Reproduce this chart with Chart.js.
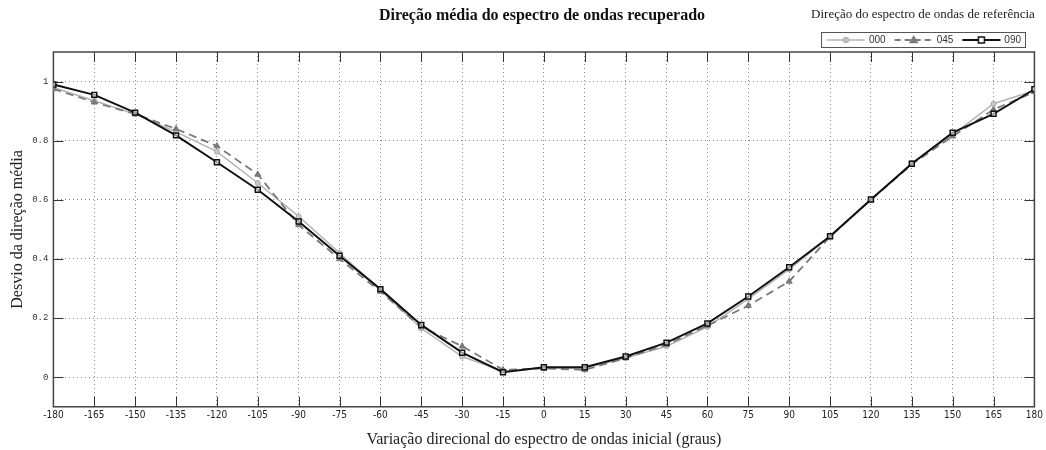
<!DOCTYPE html>
<html>
<head>
<meta charset="utf-8">
<script src="https://cdn.jsdelivr.net/npm/chart.js@4.4.1/dist/chart.umd.min.js"></script>
<style>
  html, body { margin: 0; padding: 0; background: #fff; }
  #wrap { position: relative; width: 1046px; height: 450px; }
  #title {
    position: absolute; top: 6px; left: 542px; transform: translateX(-50%);
    white-space: nowrap; font: bold 16px 'Liberation Serif', serif; color: #111;
  }
</style>
</head>
<body>
<div id="wrap">
  <canvas id="chart" width="1046" height="450"></canvas>
  <div id="title">Direção média do espectro de ondas recuperado</div>
</div>
<script>
// initial directional shift (degrees)
const angles = [-180, -165, -150, -135, -120, -105, -90, -75, -60, -45, -30, -15, 0,
                15, 30, 45, 60, 75, 90, 105, 120, 135, 150, 165, 180];

// mean direction deviation for each reference spectrum direction
const dir000 = [0.98, 0.935, 0.89, 0.83, 0.763, 0.657, 0.544, 0.42, 0.295, 0.165, 0.07, 0.02, 0.03,
                0.03, 0.065, 0.105, 0.17, 0.265, 0.365, 0.475, 0.60, 0.725, 0.82, 0.925, 0.97];
const dir045 = [0.975, 0.93, 0.89, 0.84, 0.782, 0.686, 0.515, 0.40, 0.29, 0.17, 0.105, 0.025, 0.03,
                0.025, 0.065, 0.11, 0.175, 0.242, 0.324, 0.475, 0.60, 0.72, 0.815, 0.905, 0.965];
const dir090 = [0.99, 0.955, 0.895, 0.818, 0.727, 0.634, 0.527, 0.411, 0.298, 0.177, 0.083, 0.017, 0.034,
                0.034, 0.07, 0.117, 0.182, 0.273, 0.372, 0.477, 0.601, 0.722, 0.827, 0.891, 0.974];

const seriesNames = ['000', '045', '090'];
const legendTitle = 'Direção do espectro de ondas de referência';
const yTicks = [0, 0.2, 0.4, 0.6, 0.8, 1];
const yTickLabels = ['0', '0.2', '0.4', '0.6', '0.8', '1'];

const toPoints = arr => angles.map((a, i) => ({ x: a, y: arr[i] }));

// small line+marker sample for the legend
function legendSample(color, dash, lineWidth, marker, fill) {
  const c = document.createElement('canvas');
  c.width = 44; c.height = 12;
  const g = c.getContext('2d');
  g.strokeStyle = color;
  g.lineWidth = lineWidth;
  g.setLineDash(dash);
  g.beginPath(); g.moveTo(5.5, 6); g.lineTo(43.5, 6); g.stroke();
  g.setLineDash([]);
  g.fillStyle = fill;
  g.lineWidth = 1.5;
  g.beginPath();
  const cx = 24.5;
  if (marker === 'circle') g.arc(cx, 6, 2.5, 0, Math.PI * 2);
  if (marker === 'triangle') { g.moveTo(cx, 2.5); g.lineTo(cx + 3.5, 8.5); g.lineTo(cx - 3.5, 8.5); g.closePath(); }
  if (marker === 'rect') g.rect(cx - 3, 3, 6, 6);
  g.fill(); g.stroke();
  return c;
}

const samples = [
  legendSample('#b4b4b4', [], 1.5, 'circle', '#c8c8c8'),
  legendSample('#7a7a7a', [6, 4], 1.8, 'triangle', '#7a7a7a'),
  legendSample('#111', [], 2, 'rect', '#fff')
];

const frame = {
  id: 'frame',
  afterLayout(chart) {
    // pull the legend row in a little from the right edge
    chart.legend.right -= 20;
  },
  beforeDatasetsDraw(chart) {
    const { ctx, chartArea: a, scales: { x, y } } = chart;
    ctx.save();
    ctx.strokeStyle = '#333';
    ctx.lineWidth = 1;
    ctx.beginPath();
    x.ticks.forEach(t => {
      const px = Math.round(x.getPixelForValue(t.value)) + 0.5;
      ctx.moveTo(px, a.bottom); ctx.lineTo(px, a.bottom - 10);
      ctx.moveTo(px, a.top); ctx.lineTo(px, a.top + 10);
    });
    y.ticks.forEach(t => {
      const py = Math.round(y.getPixelForValue(t.value)) + 0.5;
      ctx.moveTo(a.left, py); ctx.lineTo(a.left + 10, py);
      ctx.moveTo(a.right, py); ctx.lineTo(a.right - 10, py);
    });
    ctx.stroke();
    ctx.strokeStyle = '#444';
    ctx.lineWidth = 1.5;
    ctx.strokeRect(a.left, a.top, a.width, a.height);
    ctx.restore();
  },
  afterDraw(chart) {
    const boxes = chart.legend.legendHitBoxes;
    if (!boxes || !boxes.length) return;
    const left = Math.min(...boxes.map(b => b.left)) - 2;
    const right = Math.max(...boxes.map(b => b.left + b.width)) + 4;
    const top = Math.min(...boxes.map(b => b.top)) - 3;
    const bottom = Math.max(...boxes.map(b => b.top + b.height)) + 2;
    const ctx = chart.ctx;
    ctx.save();
    ctx.strokeStyle = '#555';
    ctx.lineWidth = 1;
    ctx.strokeRect(Math.round(left) + 0.5, Math.round(top) + 0.5, Math.round(right - left), Math.round(bottom - top));
    ctx.fillStyle = '#222';
    ctx.font = "13px 'Liberation Serif', serif";
    ctx.textAlign = 'center';
    ctx.textBaseline = 'middle';
    ctx.fillText(legendTitle, (left + right) / 2, 15);
    ctx.restore();
  }
};

new Chart(document.getElementById('chart'), {
  type: 'line',
  data: {
    datasets: [
      {
        label: seriesNames[0], data: toPoints(dir000), order: 3,
        borderColor: '#b4b4b4', borderWidth: 1.5,
        pointStyle: 'circle', pointRadius: 2.5, pointBackgroundColor: '#c8c8c8',
        pointBorderColor: '#a8a8a8', pointBorderWidth: 1
      },
      {
        label: seriesNames[1], data: toPoints(dir045), order: 2,
        borderColor: '#7a7a7a', borderWidth: 1.8, borderDash: [8, 5],
        pointStyle: 'triangle', pointRadius: 3.5, pointBackgroundColor: '#7a7a7a',
        pointBorderColor: '#7a7a7a', pointBorderWidth: 1
      },
      {
        label: seriesNames[2], data: toPoints(dir090), order: 1,
        borderColor: '#111', borderWidth: 2,
        pointStyle: 'rect', pointRadius: 3.5, pointBackgroundColor: 'rgba(255,255,255,0.6)',
        pointBorderColor: '#111', pointBorderWidth: 1.5
      }
    ]
  },
  options: {
    responsive: false,
    animation: false,
    layout: { padding: { left: 8, right: 0, top: 30, bottom: 1 } },
    plugins: {
      tooltip: { enabled: false },
      legend: {
        position: 'top',
        align: 'end',
        maxHeight: 22,
        labels: {
          usePointStyle: true,
          pointStyleWidth: 41,
          boxHeight: 10,
          padding: 5,
          color: '#333',
          font: { family: "'Liberation Sans', sans-serif", size: 10 },
          sort: (a, b) => a.datasetIndex - b.datasetIndex,
          generateLabels(chart) {
            const items = Chart.defaults.plugins.legend.labels.generateLabels(chart);
            items.forEach(it => { it.pointStyle = samples[it.datasetIndex]; });
            return items;
          }
        }
      }
    },
    scales: {
      x: {
        type: 'linear', min: -180, max: 180,
        afterBuildTicks: s => { s.ticks = angles.map(v => ({ value: v })); },
        grid: { color: '#8a8a8a', lineWidth: 1, drawTicks: false },
        border: { display: false, dash: [1, 3] },
        ticks: {
          autoSkip: false, maxRotation: 0, padding: 3, color: '#222',
          font: { family: "'Liberation Sans Narrow', 'DejaVu Sans Condensed', sans-serif", size: 10 },
          callback: v => String(v)
        },
        title: {
          display: true, text: 'Variação direcional do espectro de ondas inicial (graus)',
          color: '#222', font: { family: "'Liberation Serif', serif", size: 16 },
          padding: { top: 5, bottom: 0 }
        }
      },
      y: {
        min: -0.1, max: 1.1,
        afterBuildTicks: s => { s.ticks = yTicks.map(v => ({ value: v })); },
        grid: { color: '#8a8a8a', lineWidth: 1, drawTicks: false },
        border: { display: false, dash: [1, 3] },
        ticks: {
          padding: 5, color: '#333',
          font: { family: "'Liberation Mono', monospace", size: 9 },
          callback: (v, i) => yTickLabels[i]
        },
        title: {
          display: true, text: 'Desvio da direção média',
          color: '#222', font: { family: "'Liberation Serif', serif", size: 16 },
          padding: { top: 0, bottom: 0 }
        }
      }
    }
  },
  plugins: [frame]
});
</script>
</body>
</html>
